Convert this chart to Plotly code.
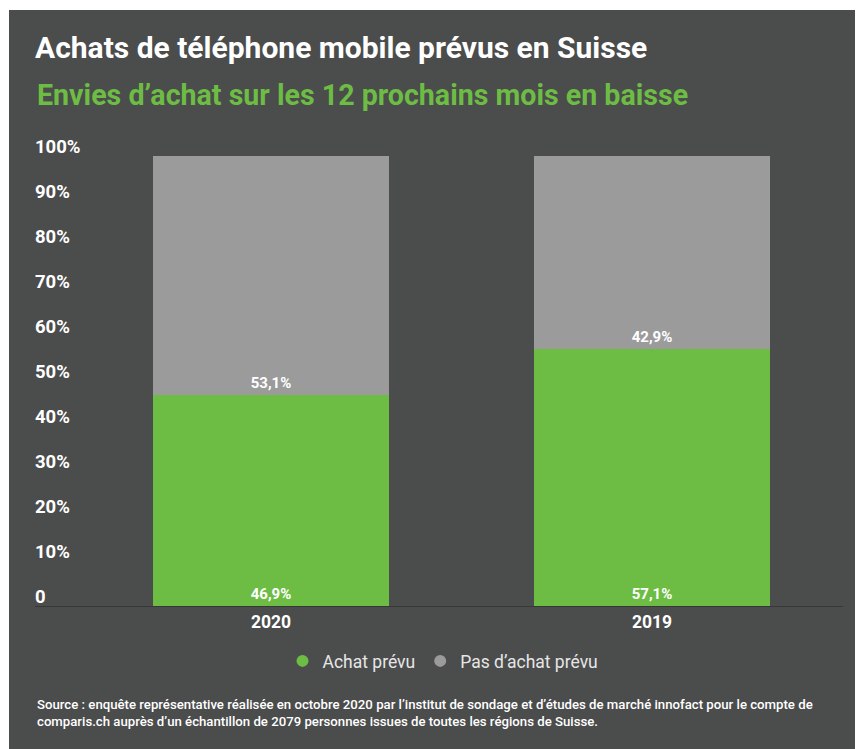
import plotly.graph_objects as go

categories = ["2020", "2019"]
achat_prevu = [46.9, 57.1]
pas_achat = [53.1, 42.9]
series_names = ["Achat prévu", "Pas d’achat prévu"]
tick_vals = [0, 10, 20, 30, 40, 50, 60, 70, 80, 90, 100]
tick_text = ["0", "10%", "20%", "30%", "40%", "50%", "60%", "70%", "80%", "90%", "100%"]
title = "Achats de téléphone mobile prévus en Suisse"
subtitle = "Envies d’achat sur les 12 prochains mois en baisse"
source = ("Source : enquête représentative réalisée en octobre 2020 par l’institut de sondage et d’études de marché innofact pour le compte de<br>"
          "comparis.ch auprès d’un échantillon de 2079 personnes issues de toutes les régions de Suisse.")

W, H = 863, 749
OX, OY = 8, 8  # page body margin
L, R, T, B = 27, 28, 121, 133
PW, PH = W - L - R, H - T - B

def px_x(x):  # screen px -> paper
    return (x - OX - L) / PW

def px_y(y):
    return (H - B - (y - OY)) / PH

GREEN = "#6dbd45"
GRAY = "#9b9b9b"
BG = "#4b4c4c"
FONT = "Roboto"

fig = go.Figure()
for name, vals, col in [(series_names[0], achat_prevu, GREEN), (series_names[1], pas_achat, GRAY)]:
    fig.add_trace(go.Bar(
        x=categories, y=vals, name=name, marker=dict(color=col, line=dict(width=0)),
        width=0.62, texttemplate="%{y:.1f}%", textposition="inside",
        insidetextanchor="start", textangle=0,
        textfont=dict(family=FONT, size=15, color="white", weight="bold"),
        showlegend=False,
    ))
    fig.add_trace(go.Scatter(
        x=[None], y=[None], mode="markers", name=name,
        marker=dict(color=col, size=11, symbol="circle"), showlegend=True,
    ))

fig.update_layout(
    width=W, height=H, barmode="stack", separators=",.",
    margin=dict(l=L, r=R, t=T, b=B, pad=0),
    paper_bgcolor=BG, plot_bgcolor=BG,
    font=dict(family=FONT, color="white"),
    title=dict(text=title, x=(35 - OX) / W, xanchor="left", xref="container",
               y=1 - (47 - OY) / H, yanchor="middle", yref="container",
               font=dict(family=FONT, size=30, color="white", weight="bold")),
    xaxis=dict(range=[-0.6194, 1.5013], showgrid=False, zeroline=False, showline=False,
               tickfont=dict(family=FONT, size=17.5, color="white", weight="bold"),
               ticks="", ticklabelstandoff=-15),
    yaxis=dict(range=[-4, 106], tickvals=tick_vals, ticktext=tick_text,
               showgrid=False, zeroline=True, zerolinecolor="#363737", zerolinewidth=1,
               showline=False,
               ticklabelposition="inside", ticklabelshift=-9, ticklabelstandoff=-3, ticks="",
               tickfont=dict(family=FONT, size=18.5, color="white", weight="bold")),
    legend=dict(orientation="h", x=px_x(443), xanchor="center", y=px_y(661), yanchor="middle",
                font=dict(family=FONT, size=17.5, color="#e6e6e6"), itemsizing="constant",
                bgcolor="rgba(0,0,0,0)", traceorder="normal", itemwidth=30),
    shapes=[
        dict(type="rect", xref="paper", yref="paper", x0=px_x(0), x1=px_x(W + OX), y0=px_y(0), y1=px_y(10),
             fillcolor="white", line=dict(width=0), layer="below"),
        dict(type="rect", xref="paper", yref="paper", x0=px_x(0), x1=px_x(9), y0=px_y(0), y1=px_y(H + OY),
             fillcolor="white", line=dict(width=0), layer="below"),
    ],
    annotations=[
        dict(text=subtitle, xref="paper", yref="paper", x=px_x(35), y=px_y(95), xanchor="left",
             yanchor="middle", showarrow=False,
             font=dict(family=FONT, size=28.6, color=GREEN, weight="bold")),
        dict(text=source, xref="paper", yref="paper", x=px_x(35), y=px_y(712.5), xanchor="left",
             yanchor="middle", showarrow=False, align="left",
             font=dict(family=FONT, size=13.2, color="white", weight=500)),
    ],
)

fig.write_html("out.html")
